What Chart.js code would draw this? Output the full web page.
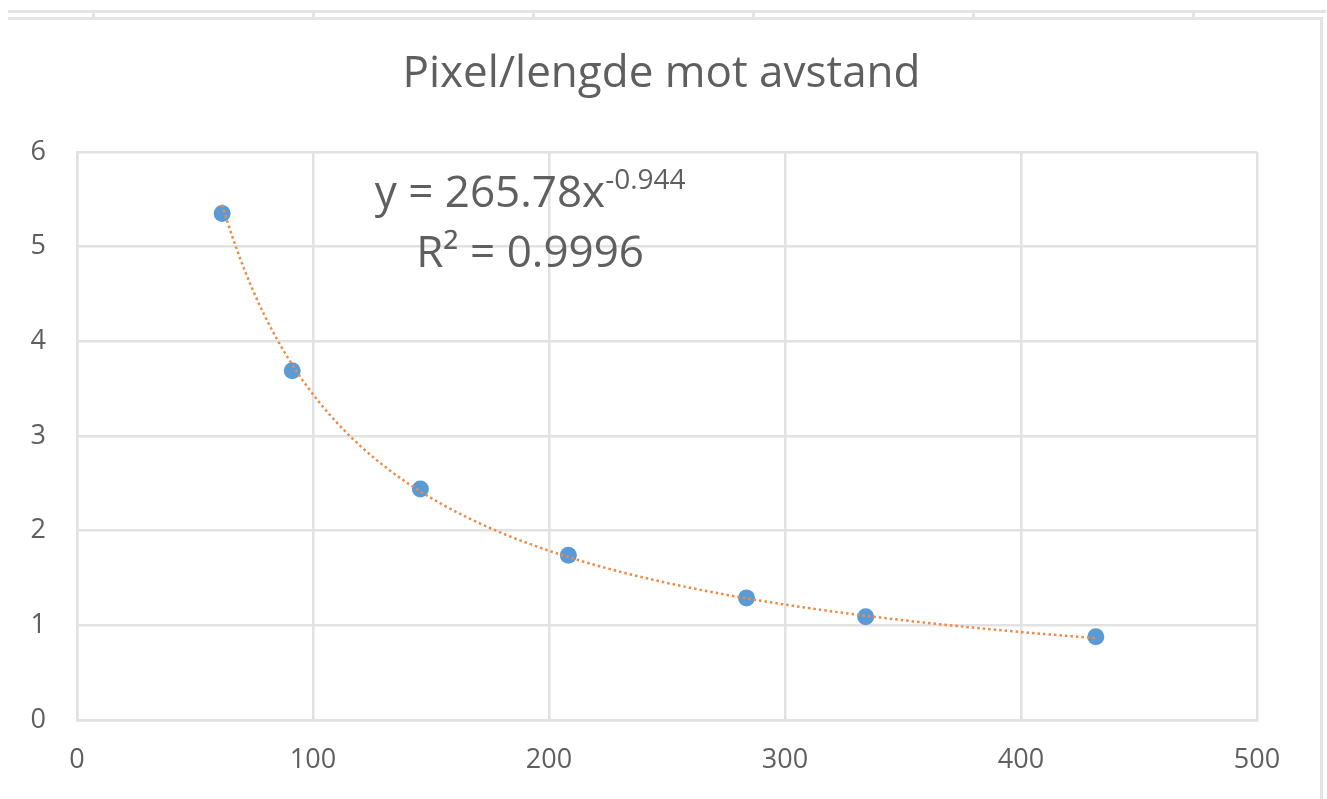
<!DOCTYPE html>
<html>
<head>
<meta charset="utf-8">
<title>Pixel/lengde mot avstand</title>
<script src="https://cdn.jsdelivr.net/npm/chart.js@4.4.1/dist/chart.umd.min.js"></script>
<style>
  html, body { margin: 0; padding: 0; background: #ffffff; }
  #wrap { position: relative; width: 1327px; height: 799px; overflow: hidden; }
  #chart { position: absolute; left: 0; top: 0; }
  .rule { position: absolute; background: #e4e4e4; }
</style>
</head>
<body>
<div id="wrap">
  <!-- worksheet cell borders above the chart frame -->
  <div class="rule" style="left:8px; top:10px; width:1318px; height:3px;"></div>
  <div class="rule" style="left:8px; top:17px; width:1315px; height:3px;"></div>
  <div class="rule" style="left:92px; top:10px; width:3px; height:9px;"></div>
  <div class="rule" style="left:312px; top:10px; width:3px; height:9px;"></div>
  <div class="rule" style="left:532px; top:10px; width:3px; height:9px;"></div>
  <div class="rule" style="left:752px; top:10px; width:3px; height:9px;"></div>
  <div class="rule" style="left:972px; top:10px; width:3px; height:9px;"></div>
  <div class="rule" style="left:1192px; top:10px; width:3px; height:9px;"></div>
  <div class="rule" style="left:1320px; top:17px; width:3px; height:782px;"></div>
  <canvas id="chart" width="1327" height="799"></canvas>
</div>
<script>
// Measured distance vs. pixels per unit length
const distance = [61.5, 91.2, 145.5, 208.2, 283.7, 334.2, 431.7];
const pixelPerLength = [5.35, 3.69, 2.44, 1.74, 1.29, 1.09, 0.88];

// Axis ticks
const xTicks = [0, 100, 200, 300, 400, 500];
const yTicks = [0, 1, 2, 3, 4, 5, 6];

// Power trendline y = a * x^b and its fit quality
const TREND_COEF = 265.78;
const TREND_EXP = -0.944;
const TREND_R2 = 0.9996;

const TITLE = 'Pixel/lengde mot avstand';
const FONT = '"Open Sans", "Noto Sans", sans-serif';
const TEXT_COLOR = '#5f5f5f';
const GRID_COLOR = '#e2e2e2';

// Trendline sampled across the measured range
const trendPoints = [];
(function () {
  const lo = Math.min(...distance), hi = Math.max(...distance);
  const n = 120;
  for (let i = 0; i <= n; i++) {
    const x = lo + (hi - lo) * i / n;
    trendPoints.push({ x: x, y: TREND_COEF * Math.pow(x, TREND_EXP) });
  }
})();

const measured = distance.map((x, i) => ({ x: x, y: pixelPerLength[i] }));

// Chart title and trendline equation label
const textPlugin = {
  id: 'chartText',
  afterDraw(chart) {
    const ctx = chart.ctx;
    const area = chart.chartArea;
    ctx.save();
    ctx.fillStyle = TEXT_COLOR;
    ctx.textBaseline = 'middle';

    // title
    ctx.font = '44px ' + FONT;
    ctx.textAlign = 'center';
    ctx.fillText(TITLE, chart.width / 2 - 2, 74);

    // equation, with the exponent raised
    const cx = area.left + (area.right - area.left) * 0.384;
    const main = 'y = ' + TREND_COEF.toFixed(2) + 'x';
    const sup = TREND_EXP.toFixed(3);
    ctx.font = '44px ' + FONT;
    const wMain = ctx.measureText(main).width;
    ctx.font = '28px ' + FONT;
    const wSup = ctx.measureText(sup).width;
    const start = cx - (wMain + wSup) / 2;
    ctx.textAlign = 'left';
    ctx.font = '44px ' + FONT;
    ctx.fillText(main, start, 194);
    ctx.font = '28px ' + FONT;
    ctx.fillText(sup, start + wMain, 181);

    // coefficient of determination
    ctx.font = '44px ' + FONT;
    ctx.textAlign = 'center';
    ctx.fillText('R\u00B2 = ' + TREND_R2.toFixed(4), cx, 254);
    ctx.restore();
  }
};

new Chart(document.getElementById('chart'), {
  type: 'scatter',
  data: {
    datasets: [
      {
        label: 'Trend',
        data: trendPoints,
        showLine: true,
        borderColor: '#F08A45',
        borderWidth: 2.5,
        borderDash: [2.5, 3],
        pointRadius: 0,
        fill: false,
        tension: 0,
        order: 0
      },
      {
        label: 'Pixel/lengde',
        data: measured,
        backgroundColor: '#5B9BD5',
        borderColor: '#5B9BD5',
        pointRadius: 8.5,
        pointBorderWidth: 0,
        showLine: false,
        order: 1
      }
    ]
  },
  options: {
    responsive: false,
    animation: false,
    layout: { padding: { top: 152, right: 70, left: 0, bottom: 0 } },
    plugins: {
      legend: { display: false },
      tooltip: { enabled: false },
      title: { display: false }
    },
    scales: {
      x: {
        type: 'linear',
        min: xTicks[0],
        max: xTicks[xTicks.length - 1],
        afterBuildTicks(scale) { scale.ticks = xTicks.map(v => ({ value: v })); },
        afterFit(scale) { scale.height = 79; },
        ticks: {
          color: TEXT_COLOR,
          font: { family: FONT, size: 27 },
          padding: 24,
          maxRotation: 0
        },
        grid: { color: GRID_COLOR, lineWidth: 2.5, drawTicks: false },
        border: { color: GRID_COLOR, width: 2.5 }
      },
      y: {
        type: 'linear',
        min: yTicks[0],
        max: yTicks[yTicks.length - 1],
        afterBuildTicks(scale) { scale.ticks = yTicks.map(v => ({ value: v })); },
        afterFit(scale) { scale.width = 77; },
        ticks: {
          color: TEXT_COLOR,
          font: { family: FONT, size: 27 },
          padding: 31
        },
        grid: { color: GRID_COLOR, lineWidth: 2.5, drawTicks: false },
        border: { color: GRID_COLOR, width: 2.5 }
      }
    }
  },
  plugins: [textPlugin]
});
</script>
</body>
</html>
